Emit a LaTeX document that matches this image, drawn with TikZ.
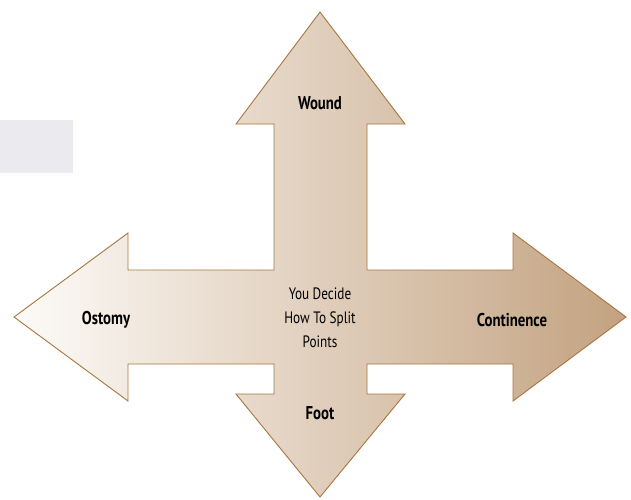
\documentclass[tikz,border=0pt]{standalone}
\usepackage{fontspec}
\setmainfont[FakeStretch=0.8]{PT Sans}
\definecolor{outline}{HTML}{A87640}
\definecolor{pale}{HTML}{FDFBF8}
\definecolor{tan}{HTML}{C3A280}
\definecolor{panel}{HTML}{EBEAEF}

\begin{document}
\begin{tikzpicture}[x=1pt, y=-1pt, line join=miter]
    \tikzset{
        armlabel/.style={font=\bfseries\fontsize{18.5}{22}\selectfont, text=black, inner sep=0pt},
        midlabel/.style={font=\fontsize{16.5}{24}\selectfont, text=black, align=center, inner sep=0pt}
    }
    \useasboundingbox (0,0) rectangle (631,499);

    % Grey panel at the left edge
    \fill[panel] (0,120) rectangle (73,173);

    % Corners of the four-way arrow
    \coordinate (N)  at (320,12);    % top tip
    \coordinate (E)  at (626,317);   % right tip
    \coordinate (S)  at (320,497);   % bottom tip
    \coordinate (W)  at (14,317);    % left tip

    % Four-way arrow, shaded from left to right
    \draw[outline, line width=0.9pt, left color=pale, right color=tan]
        (N) -- (405,124) -- (367,124) -- (367,270) -- (513,270) -- (513,233)
        -- (E) -- (513,401) -- (513,364) -- (367,364) -- (367,394) -- (405,394)
        -- (S) -- (236,394) -- (274,394) -- (274,364) -- (128,364) -- (128,401)
        -- (W) -- (128,233) -- (128,270) -- (274,270) -- (274,124) -- (236,124)
        -- cycle;

    % Arm labels
    \node[armlabel] (wound)      at (320,103) {Wound};
    \node[armlabel] (ostomy)     at (106,320) {Ostomy};
    \node[armlabel] (continence) at (512,320) {Continence};
    \node[armlabel] (foot)       at (320,413) {Foot};

    % Centre text
    \node[midlabel] (decide) at (320,318) {You Decide\\How To Split\\Points};
\end{tikzpicture}
\end{document}
